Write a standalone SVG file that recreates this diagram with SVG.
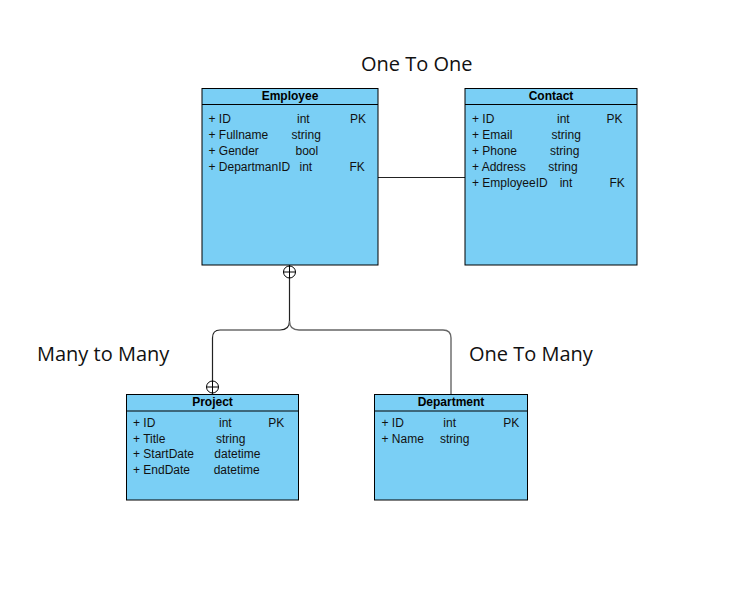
<svg xmlns="http://www.w3.org/2000/svg" width="750" height="605" viewBox="0 0 750 605">
<style>
.box{fill:#7acff5;stroke:#000;stroke-width:1}
.sep{stroke:#000;stroke-width:1}
.hd{font-family:"Liberation Sans",Arial,sans-serif;font-size:12px;font-weight:bold;fill:#000;text-anchor:middle}
.t{font-family:"Liberation Sans",Arial,sans-serif;font-size:12px;fill:#111}
.lbl{font-family:"Open Sans",sans-serif;font-size:20px;fill:#111}
.ln{fill:none;stroke:#222;stroke-width:1.2}
.lg{fill:none;stroke:#666;stroke-width:1.4}
.cir{fill:#fff;stroke:#000;stroke-width:1}
</style>
<rect width="750" height="605" fill="#fff"/>
<g id="connectors">
<line class="ln" x1="378" y1="177.5" x2="465" y2="177.5"/>
<line class="ln" x1="289.5" y1="265" x2="289.5" y2="321"/>
<path class="ln" d="M289.5,321 Q289.5,330 280,330 L220,330 Q212.5,330 212.5,338 L212.5,394"/>
<path class="lg" d="M289.5,321 Q289.5,330 299,330 L443,330 Q451,330 451,338 L451,394"/>
<g>
<circle class="cir" cx="289.5" cy="272" r="6"/>
<line class="sep" x1="283.5" y1="272" x2="295.5" y2="272"/>
<line class="sep" x1="289.5" y1="266" x2="289.5" y2="278"/>
</g>
<g>
<circle class="cir" cx="212.5" cy="387" r="6"/>
<line class="sep" x1="206.5" y1="387" x2="218.5" y2="387"/>
<line class="sep" x1="212.5" y1="381" x2="212.5" y2="393"/>
</g>
</g>
<g id="employee">
<rect class="box" x="202" y="88.5" width="176" height="176.5"/>
<line class="sep" x1="202" y1="104.5" x2="378" y2="104.5"/>
<text class="hd" x="290" y="100">Employee</text>
<text class="t" x="208.5" y="122.5">+ ID</text><text class="t" x="297" y="122.5">int</text><text class="t" x="350" y="122.5">PK</text>
<text class="t" x="208.5" y="138.5">+ Fullname</text><text class="t" x="291.5" y="138.5">string</text>
<text class="t" x="208.5" y="154.5">+ Gender</text><text class="t" x="295.5" y="154.5">bool</text>
<text class="t" x="208.5" y="170.5">+ DepartmanID</text><text class="t" x="299.5" y="170.5">int</text><text class="t" x="349.5" y="170.5">FK</text>
</g>
<g id="contact">
<rect class="box" x="465" y="88.5" width="172" height="176.5"/>
<line class="sep" x1="465" y1="104.5" x2="637" y2="104.5"/>
<text class="hd" x="551" y="100">Contact</text>
<text class="t" x="472" y="122.5">+ ID</text><text class="t" x="557" y="122.5">int</text><text class="t" x="606.5" y="122.5">PK</text>
<text class="t" x="472" y="138.5">+ Email</text><text class="t" x="551.5" y="138.5">string</text>
<text class="t" x="472" y="154.5">+ Phone</text><text class="t" x="550" y="154.5">string</text>
<text class="t" x="472" y="170.5">+ Address</text><text class="t" x="548.3" y="170.5">string</text>
<text class="t" x="472" y="186.5">+ EmployeeID</text><text class="t" x="559.7" y="186.5">int</text><text class="t" x="609.5" y="186.5">FK</text>
</g>
<g id="project">
<rect class="box" x="126.5" y="394.5" width="172" height="105.5"/>
<line class="sep" x1="126.5" y1="411" x2="298.5" y2="411"/>
<text class="hd" x="212.5" y="406">Project</text>
<text class="t" x="133" y="426.5">+ ID</text><text class="t" x="219" y="426.5">int</text><text class="t" x="268.3" y="426.5">PK</text>
<text class="t" x="133" y="442.5">+ Title</text><text class="t" x="216" y="442.5">string</text>
<text class="t" x="133" y="458">+ StartDate</text><text class="t" x="214.3" y="458">datetime</text>
<text class="t" x="133" y="474">+ EndDate</text><text class="t" x="213.7" y="474">datetime</text>
</g>
<g id="department">
<rect class="box" x="374.5" y="394.5" width="153" height="105.5"/>
<line class="sep" x1="374.5" y1="411" x2="527.5" y2="411"/>
<text class="hd" x="451" y="406">Department</text>
<text class="t" x="381.5" y="426.5">+ ID</text><text class="t" x="443.3" y="426.5">int</text><text class="t" x="503.3" y="426.5">PK</text>
<text class="t" x="381.5" y="442.5">+ Name</text><text class="t" x="440" y="442.5">string</text>
</g>
<g id="labels">
<text class="lbl" x="361" y="71">One To One</text>
<text class="lbl" x="37" y="361">Many to Many</text>
<text class="lbl" x="469" y="361">One To Many</text>
</g>
</svg>
